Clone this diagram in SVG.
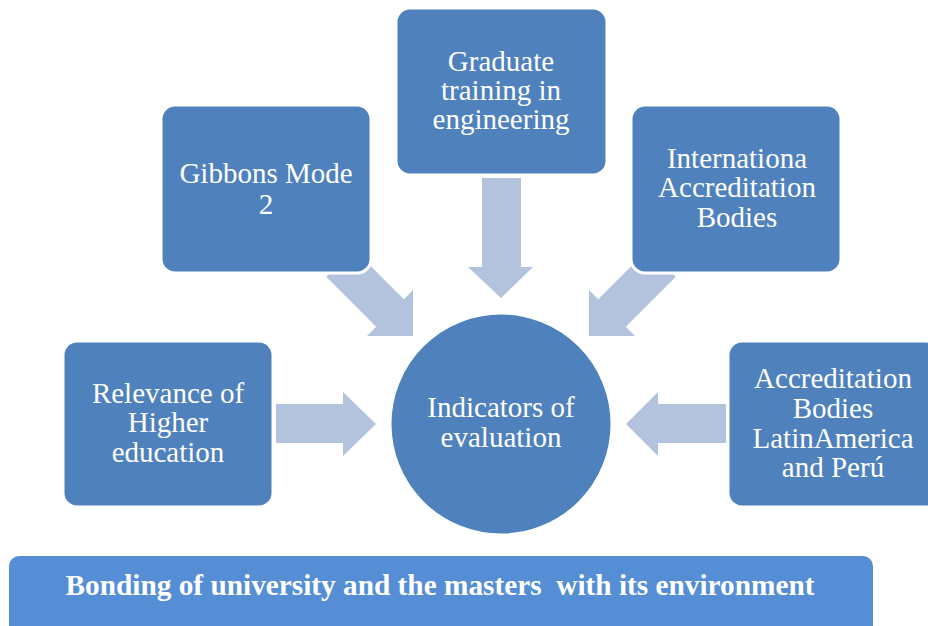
<svg xmlns="http://www.w3.org/2000/svg" width="928" height="626" viewBox="0 0 928 626">
  <style>
    .arrow { fill: #b3c3de; stroke: none; }
    .box { fill: #4f81bd; stroke: #ffffff; stroke-width: 3; }
    .lbl { font-family: "Liberation Serif", "Times New Roman", serif; font-size: 29px; fill: #ffffff; text-anchor: middle; }
    .banner { fill: #558ed5; }
    .banner-lbl { font-family: "Liberation Serif", "Times New Roman", serif; font-size: 29px; font-weight: bold; fill: #ffffff; text-anchor: middle; white-space: pre; }
  </style>
  <rect width="928" height="626" fill="#ffffff"/>

  <!-- block arrows pointing into the central circle -->
  <g id="connectors">
    <polygon class="arrow" points="482,178 521,178 521,267 533,267 501,298 468,267 482,267"/>
    <polygon class="arrow" points="353.8,249.2 403.8,299.2 413,290 413,336 367,336 376.2,326.8 326.2,276.8"/>
    <polygon class="arrow" points="648.2,249.2 598.2,299.2 589,290 589,336 635,336 625.8,326.8 675.8,276.8"/>
    <polygon class="arrow" points="276,404 343,404 343,392 376,424 343,456 343,443 276,443"/>
    <polygon class="arrow" points="726,404 658,404 658,392 626,424 658,456 658,443 726,443"/>
  </g>

  <g id="node-graduate">
    <rect class="box" x="396" y="8" width="211" height="167" rx="14"/>
    <text class="lbl" x="501" y="71">Graduate</text>
    <text class="lbl" x="501" y="100">training in</text>
    <text class="lbl" x="501" y="129">engineering</text>
  </g>

  <g id="node-gibbons">
    <rect class="box" x="161" y="105" width="210" height="168" rx="14"/>
    <text class="lbl" x="266" y="183">Gibbons Mode</text>
    <text class="lbl" x="266" y="214">2</text>
  </g>

  <g id="node-international">
    <rect class="box" x="631" y="105" width="210" height="168" rx="14"/>
    <text class="lbl" x="737" y="168">Internationa</text>
    <text class="lbl" x="737" y="197">Accreditation</text>
    <text class="lbl" x="737" y="227">Bodies</text>
  </g>

  <g id="node-relevance">
    <rect class="box" x="63" y="341" width="210" height="166" rx="14"/>
    <text class="lbl" x="168" y="403">Relevance of</text>
    <text class="lbl" x="168" y="432">Higher</text>
    <text class="lbl" x="168" y="462">education</text>
  </g>

  <g id="node-latinamerica">
    <rect class="box" x="728" y="341" width="212" height="166" rx="14"/>
    <text class="lbl" x="833" y="388">Accreditation</text>
    <text class="lbl" x="833" y="418">Bodies</text>
    <text class="lbl" x="833" y="448">LatinAmerica</text>
    <text class="lbl" x="833" y="477">and Perú</text>
  </g>

  <g id="node-indicators">
    <circle class="box" cx="501" cy="424" r="111"/>
    <text class="lbl" x="501" y="417">Indicators of</text>
    <text class="lbl" x="501" y="447">evaluation</text>
  </g>

  <g id="banner">
    <rect class="banner" x="9" y="556" width="864" height="80" rx="10"/>
    <text class="banner-lbl" x="440" y="595" textLength="749" lengthAdjust="spacingAndGlyphs" xml:space="preserve">Bonding of university and the masters  with its environment</text>
  </g>
</svg>
